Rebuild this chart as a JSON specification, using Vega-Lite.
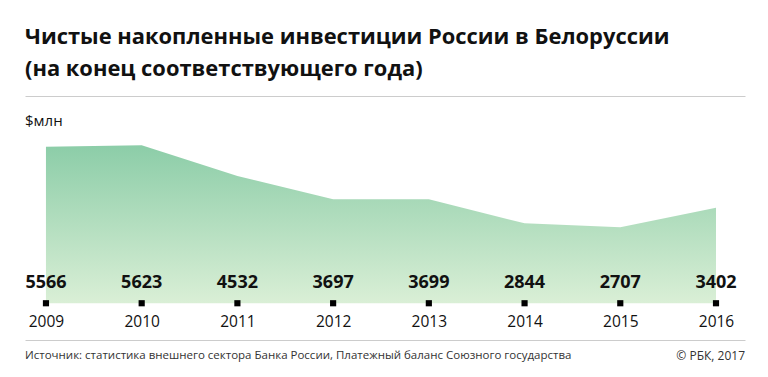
{
  "$schema": "https://vega.github.io/schema/vega-lite/v6.json",
  "width": 768,
  "height": 377,
  "autosize": {"type": "fit", "contains": "padding"},
  "padding": {"left": 25, "right": 23, "top": 26, "bottom": 5},
  "background": "white",
  "config": {"view": {"stroke": null}, "font": "Open Sans"},
  "title": {
    "text": ["Чистые накопленные инвестиции России в Белоруссии", "(на конец соответствующего года)"],
    "anchor": "start",
    "fontSize": 21.9,
    "fontWeight": "bold",
    "font": "Open Sans",
    "color": "#111111",
    "lineHeight": 32,
    "offset": 15,
    "frame": "group"
  },
  "datasets": {
    "inv": [
      {"year": 2009, "value": 5566},
      {"year": 2010, "value": 5623},
      {"year": 2011, "value": 4532},
      {"year": 2012, "value": 3697},
      {"year": 2013, "value": 3699},
      {"year": 2014, "value": 2844},
      {"year": 2015, "value": 2707},
      {"year": 2016, "value": 3402}
    ]
  },
  "data": {"name": "inv"},
  "layer": [
    {
      "mark": {
        "type": "area",
        "color": {
          "gradient": "linear",
          "x1": 0, "y1": 0, "x2": 0, "y2": 1,
          "stops": [
            {"offset": 0, "color": "#8ccda8"},
            {"offset": 1, "color": "#daefd6"}
          ]
        }
      },
      "encoding": {
        "x": {
          "field": "year",
          "type": "quantitative",
          "scale": {"domain": [2008.781, 2016.303], "nice": false, "zero": false},
          "axis": {
            "values": [2009, 2010, 2011, 2012, 2013, 2014, 2015, 2016],
            "format": "d",
            "orient": "bottom",
            "offset": -69,
            "domain": false,
            "ticks": false,
            "grid": false,
            "labelPadding": 11,
            "labelFontSize": 15.5,
            "labelColor": "#111111",
            "labelFont": "Open Sans",
            "title": null
          }
        },
        "y": {
          "field": "value",
          "type": "quantitative",
          "scale": {"domain": [-2447, 7376], "nice": false},
          "axis": {
            "values": [-1312, 7376],
            "grid": true,
            "gridColor": "#cccccc",
            "gridWidth": 1,
            "labels": false,
            "ticks": false,
            "domain": false,
            "title": null
          }
        },
        "y2": {"datum": 0}
      }
    },
    {
      "mark": {"type": "text", "fontSize": 18, "fontWeight": "bold", "font": "Open Sans", "color": "#111111", "baseline": "middle", "dy": -20},
      "encoding": {
        "x": {"field": "year", "type": "quantitative"},
        "y": {"datum": 0},
        "text": {"field": "value", "type": "quantitative", "format": "d"}
      }
    },
    {
      "mark": {"type": "point", "shape": "square", "filled": true, "color": "#000000", "opacity": 1, "size": 38},
      "encoding": {
        "x": {"field": "year", "type": "quantitative"},
        "y": {"datum": 0}
      }
    },
    {
      "data": {"values": [{"label": "$млн", "pos": 2008.781, "v": 6489}]},
      "mark": {"type": "text", "fontSize": 15, "font": "Open Sans", "color": "#111111", "align": "left", "baseline": "middle"},
      "encoding": {
        "x": {"field": "pos", "type": "quantitative"},
        "y": {"field": "v", "type": "quantitative"},
        "text": {"field": "label"}
      }
    },
    {
      "data": {"values": [{"text": "Источник: статистика внешнего сектора Банка России, Платежный баланс Союзного государства", "pos": 2008.781, "v": -1879}]},
      "mark": {"type": "text", "fontSize": 11.5, "font": "Open Sans", "color": "#333333", "baseline": "middle", "align": "left"},
      "encoding": {
        "x": {"field": "pos", "type": "quantitative"},
        "y": {"field": "v", "type": "quantitative"},
        "text": {"field": "text"}
      }
    },
    {
      "data": {"values": [{"text": "© РБК, 2017", "pos": 2016.303, "v": -1879}]},
      "mark": {"type": "text", "fontSize": 12, "font": "Open Sans", "color": "#333333", "baseline": "middle", "align": "right"},
      "encoding": {
        "x": {"field": "pos", "type": "quantitative"},
        "y": {"field": "v", "type": "quantitative"},
        "text": {"field": "text"}
      }
    }
  ]
}
